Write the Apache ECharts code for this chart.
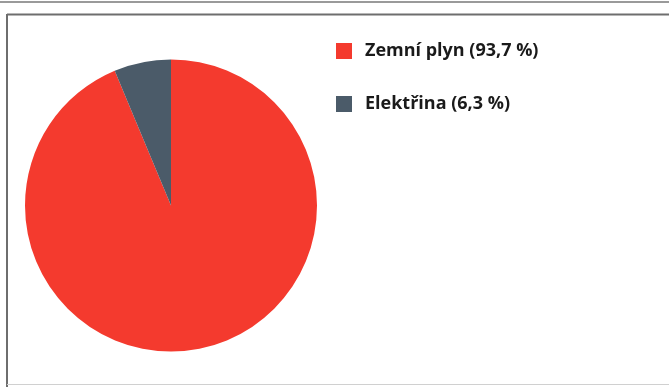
<!DOCTYPE html>
<html>
<head>
<meta charset="utf-8">
<script src="https://cdn.jsdelivr.net/npm/echarts@6/dist/echarts.min.js"></script>
<style>
  html, body { margin: 0; padding: 0; background: #fff; }
  #chart { width: 669px; height: 387px; }
</style>
</head>
<body>
<div id="chart"></div>
<script>
// Energy source shares (%)
const categories = ['Zemní plyn', 'Elektřina'];
const shares = [93.7, 6.3];
const colors = ['#f43a2e', '#4b5b69'];

const fmt = v => v.toFixed(1).replace('.', ',');
const labelFor = {};
categories.forEach((c, i) => { labelFor[c] = c + ' (' + fmt(shares[i]) + ' %)'; });

const chart = echarts.init(document.getElementById('chart'));
chart.setOption({
  animation: false,
  backgroundColor: '#ffffff',
  color: colors,
  graphic: [
    { type: 'line', shape: { x1: 0, y1: 2, x2: 669, y2: 2 }, style: { stroke: '#9a9a9a', lineWidth: 2 } },
    { type: 'line', shape: { x1: 7, y1: 14.5, x2: 669, y2: 14.5 }, style: { stroke: '#6e6e6e', lineWidth: 2 } },
    { type: 'line', shape: { x1: 7, y1: 14, x2: 7, y2: 387 }, style: { stroke: '#6e6e6e', lineWidth: 2 } },
    { type: 'line', shape: { x1: 7, y1: 384.5, x2: 669, y2: 384.5 }, style: { stroke: '#d0d0d0', lineWidth: 1 } }
  ],
  legend: {
    orient: 'vertical',
    left: 331,
    top: 34,
    padding: 5,
    itemWidth: 16,
    itemHeight: 16,
    itemGap: 29,
    icon: 'rect',
    data: categories,
    formatter: name => labelFor[name],
    textStyle: {
      fontFamily: '"Open Sans", sans-serif',
      fontWeight: 'bold',
      fontSize: 18,
      lineHeight: 24,
      color: '#1a1a1a',
      padding: [0, 0, 0, 8]
    }
  },
  series: [{
    type: 'pie',
    center: [171, 205.5],
    radius: 146,
    startAngle: 90,
    clockwise: true,
    label: { show: false },
    labelLine: { show: false },
    itemStyle: { borderWidth: 0 },
    data: categories.map((c, i) => ({ name: c, value: shares[i] }))
  }]
});
</script>
</body>
</html>
